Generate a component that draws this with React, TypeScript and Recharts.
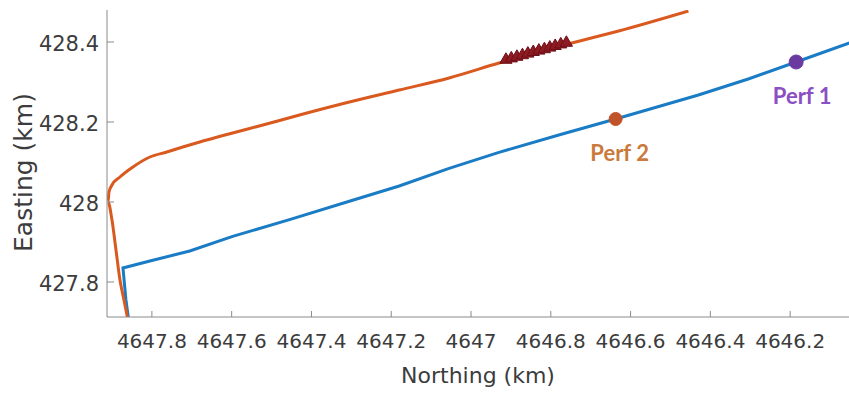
import { ComposedChart, Line, Scatter, XAxis, YAxis, ReferenceDot } from 'recharts';

// Northing / Easting (km)
const orangeNorthing = [4647.8575, 4647.87, 4647.88, 4647.89, 4647.9, 4647.91, 4647.9075, 4647.9, 4647.88, 4647.8475, 4647.805, 4647.7625, 4647.7225, 4647.68, 4647.5975, 4647.5125, 4647.43, 4647.305, 4647.18, 4647.055, 4646.93, 4646.7475, 4646.63, 4646.455];
const orangeEasting = [427.6925, 427.755, 427.805, 427.88, 427.955, 428.0, 428.025, 428.0425, 428.0625, 428.0875, 428.1125, 428.125, 428.1375, 428.15, 428.1725, 428.195, 428.2175, 428.25, 428.28, 428.31, 428.3475, 428.3975, 428.4275, 428.4775];

const blueNorthing = [4647.8575, 4647.865, 4647.8725, 4647.805, 4647.705, 4647.5975, 4647.455, 4647.305, 4647.18, 4647.055, 4646.93, 4646.78, 4646.6375, 4646.43, 4646.305, 4646.185, 4646.03];
const blueEasting = [427.7, 427.755, 427.835, 427.8525, 427.8775, 427.914, 427.956, 428.002, 428.04, 428.084, 428.124, 428.1675, 428.2075, 428.2675, 428.3075, 428.35, 428.405];

const triNorthing = [4646.9125, 4646.899, 4646.885, 4646.871, 4646.8575, 4646.844, 4646.83, 4646.816, 4646.8025, 4646.789, 4646.775, 4646.761];
const triEasting = [428.3555, 428.359, 428.363, 428.367, 428.371, 428.375, 428.3785, 428.382, 428.386, 428.39, 428.394, 428.398];

const perfNames = ['Perf 1', 'Perf 2'];
const perfNorthing = [4646.185, 4646.6375];
const perfEasting = [428.35, 428.2075];
const perfDot = ['#6b3aa0', '#c0532a'];
const perfText = ['#8a4fc2', '#c97a3c'];
const perfR = [7, 6.5];
const perfShift = [6, 4];

const xTicks = [4647.8, 4647.6, 4647.4, 4647.2, 4647, 4646.8, 4646.6, 4646.4, 4646.2];
const yTicks = [427.8, 428, 428.2, 428.4];

const orange = orangeNorthing.map((n, i) => ({ n, e: orangeEasting[i] }));
const blue = blueNorthing.map((n, i) => ({ n, e: blueEasting[i] }));
const tris = triNorthing.map((n, i) => ({ n, e: triEasting[i] }));

const AXIS = '#8a8a8a';
const TXT = '#3c3c3c';
const FONT = '"DejaVu Sans", sans-serif';
const fmt = (v: number) => String(Number(v.toFixed(1)));

const XTick = (p: any) => (
  <g>
    <line x1={p.x} x2={p.x} y1={p.y} y2={p.y - 6} stroke={AXIS} />
    <text x={p.x} y={p.y + 31} textAnchor="middle" fill={TXT} fontSize={20} fontFamily={FONT}>
      {fmt(p.payload.value)}
    </text>
  </g>
);

const YTick = (p: any) => (
  <g>
    <line x1={p.x} x2={p.x + 7} y1={p.y} y2={p.y} stroke={AXIS} />
    <text x={p.x - 8} y={p.y + 8.5} textAnchor="end" fill={TXT} fontSize={21} fontFamily={FONT}>
      {fmt(p.payload.value)}
    </text>
  </g>
);

const XTitle = (p: any) => {
  const vb = p.viewBox;
  return (
    <text x={vb.x + vb.width / 2} y={vb.y + 66} textAnchor="middle" fill={TXT} fontSize={22} fontFamily={FONT}>
      Northing (km)
    </text>
  );
};

const YTitle = (p: any) => {
  const vb = p.viewBox;
  const cx = 32;
  const cy = vb.y + vb.height / 2 + 9;
  return (
    <text x={cx} y={cy} transform={`rotate(-90, ${cx}, ${cy})`} textAnchor="middle" fill={TXT} fontSize={25} fontFamily={FONT}>
      Easting (km)
    </text>
  );
};

const PerfLabel = (p: any) => {
  const vb = p.viewBox;
  const cx = vb.x + vb.width / 2 + p.shift;
  return (
    <text x={cx} y={vb.y + vb.height / 2 + 42} textAnchor="middle" fill={p.color} fontSize={22} fontWeight={700} fontFamily="Lato, sans-serif">
      {p.value}
    </text>
  );
};

export default function App() {
  return (
    <div style={{ position: 'absolute', left: 0, top: 0, background: '#fff' }}>
      <ComposedChart width={849} height={393} margin={{ top: 10, right: 0, bottom: 0, left: 0 }}>
        <XAxis
          type="number"
          dataKey="n"
          reversed
          domain={[4646.0525, 4647.9125]}
          allowDataOverflow
          ticks={xTicks}
          interval={0}
          height={76}
          tickSize={0}
          tickMargin={0}
          tickLine={false}
          axisLine={{ stroke: AXIS }}
          tick={<XTick />}
          label={{ value: 'Northing (km)', content: <XTitle /> }}
        />
        <YAxis
          type="number"
          dataKey="e"
          domain={[427.7125, 428.48]}
          allowDataOverflow
          ticks={yTicks}
          interval={0}
          width={107}
          tickSize={0}
          tickMargin={0}
          tickLine={false}
          axisLine={{ stroke: AXIS }}
          tick={<YTick />}
          label={{ value: 'Easting (km)', content: <YTitle /> }}
        />
        <Line data={blue} dataKey="e" type="linear" stroke="#1a7cc4" strokeWidth={3} dot={false} isAnimationActive={false} />
        <Line data={orange} dataKey="e" type="monotone" stroke="#d9591f" strokeWidth={3} dot={false} isAnimationActive={false} />
        <Scatter data={tris} dataKey="e" shape="triangle" fill="#8e1a22" stroke="#6e1018" isAnimationActive={false} />
        {perfNames.map((name, i) => (
          <ReferenceDot
            key={name}
            x={perfNorthing[i]}
            y={perfEasting[i]}
            r={perfR[i]}
            fill={perfDot[i]}
            stroke={perfDot[i]}
            label={{ value: name, content: <PerfLabel value={name} color={perfText[i]} shift={perfShift[i]} /> }}
          />
        ))}
      </ComposedChart>
    </div>
  );
}
